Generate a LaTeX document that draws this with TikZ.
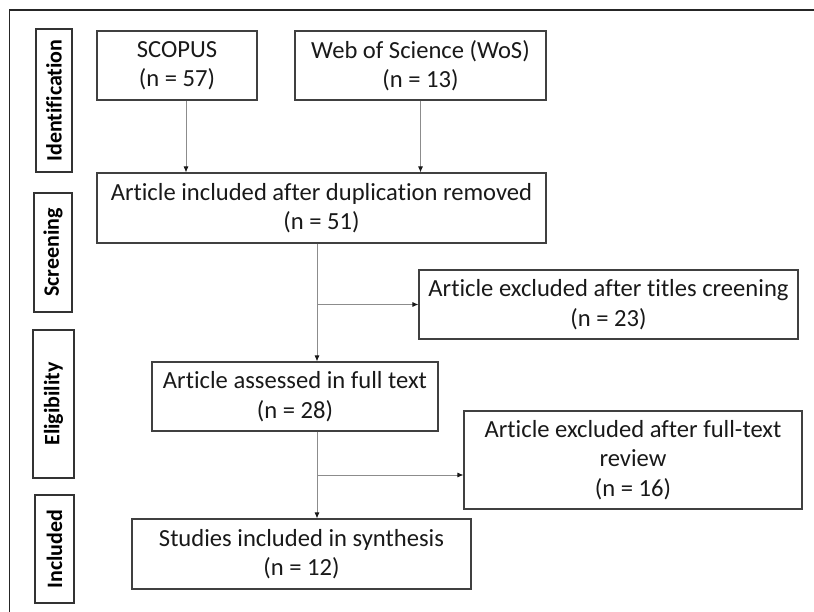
\documentclass[tikz,border=0pt]{standalone}
\usepackage{fontspec}
\setmainfont{Carlito}[Ligatures=NoCommon]
\usetikzlibrary{arrows.meta}
\begin{document}
\begin{tikzpicture}[x=1pt, y=-1pt,
    box/.style={draw=black!75, line width=1.1pt, align=center, inner sep=2pt,
                font=\fontsize{24.6}{29.5}\selectfont, text=black!90},
    stage/.style={draw=black!80, line width=1.2pt, rotate=90, inner sep=0pt,
                  font=\fontsize{22}{26}\selectfont\bfseries, text=black},
    link/.style={draw=black!45, line width=0.9pt, -{Latex[length=6pt, width=5pt, color=black!90]}}]
  \useasboundingbox (0,0) rectangle (814,612);
  \draw[line width=1.2pt, black!85] (814,10) -- (9.5,10) -- (9.5,612);

  % stage labels on the left
  \foreach \nm/\xc/\yc/\w/\h/\txt in {ident/54/100.5/36/143/Identification,
                                      screen/53/252.5/38/119/Screening,
                                      elig/53.5/404/41/148/Eligibility,
                                      incl/54.5/549/39/108/Included} {
    \node[stage, minimum width=\h, minimum height=\w] (\nm) at (\xc,\yc) {\txt};
  }

  % records
  \node[box, minimum width=160, minimum height=69] (scopus) at (177,65.5) {SCOPUS\\(n = 57)};
  \node[box, minimum width=251, minimum height=69] (wos) at (420.5,65.5) {Web of Science (WoS)\\(n = 13)};
  \node[box, minimum width=449, minimum height=70] (dup) at (321.5,208)
    {Article included after duplication removed\\(n = 51)};
  \node[box, minimum width=379, minimum height=69] (excl1) at (608.5,304.5)
    {Article excluded after titles creening\\(n = 23)};
  \node[box, minimum width=286, minimum height=69] (assess) at (295,396.5)
    {Article assessed in full text\\(n = 28)};
  \node[box, minimum width=338, minimum height=98] (excl2) at (633,460)
    {Article excluded after full-text\\review\\(n = 16)};
  \node[box, minimum width=339, minimum height=70] (studies) at (301.5,554)
    {Studies included in synthesis\\(n = 12)};

  % connectors
  \coordinate (trunk) at (317,0);
  \coordinate (fork) at (317,475);
  \draw[link] ([xshift=9]scopus.south) -- ([xshift=9]scopus.south |- dup.north);
  \draw[link] (wos.south) -- (wos.south |- dup.north);
  \draw[link] (dup.south -| trunk) -- (assess.north -| trunk);
  \draw[link] (trunk |- excl1.west) -- (excl1.west);
  \draw[link] (assess.south -| trunk) -- (studies.north -| trunk);
  \draw[link] (fork) -- (fork -| excl2.west);
\end{tikzpicture}
\end{document}
